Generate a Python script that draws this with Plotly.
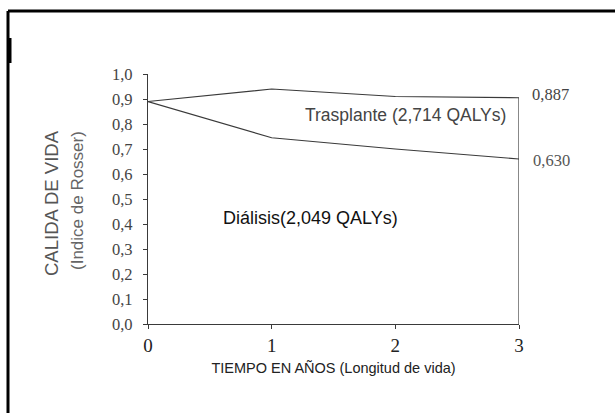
import plotly.graph_objects as go

# data
years = [0, 1, 2, 3]
trasplante = [0.89, 0.94, 0.91, 0.905]
dialisis = [0.89, 0.745, 0.70, 0.66]

y_ticks = [0.0, 0.1, 0.2, 0.3, 0.4, 0.5, 0.6, 0.7, 0.8, 0.9, 1.0]
y_tick_text = ['0,0', '0,1', '0,2', '0,3', '0,4', '0,5', '0,6', '0,7', '0,8', '0,9', '1,0']
x_ticks = [0, 1, 2, 3]

end_labels = ['0,887', '0,630']
label_trasplante = 'Trasplante (2,714 QALYs)'
label_dialisis = 'Diálisis(2,049 QALYs)'

line_col = '#3a3a3a'
serif = 'Liberation Serif, DejaVu Serif, serif'
sans = 'Liberation Sans, Arial, sans-serif'

fig = go.Figure()

fig.add_trace(go.Scatter(x=years, y=trasplante, mode='lines',
                         line=dict(color=line_col, width=1.2), name='Trasplante'))
fig.add_trace(go.Scatter(x=years, y=dialisis, mode='lines',
                         line=dict(color=line_col, width=1.2), name='Diálisis'))
# vertical closing line at the end of the time span
fig.add_trace(go.Scatter(x=[years[-1], years[-1]], y=[0, trasplante[-1]], mode='lines',
                         line=dict(color=line_col, width=1.2), showlegend=False))

W, H = 615, 413
ml, mr, mt, mb = 148, 96, 74, 89

fig.update_layout(
    width=W, height=H,
    margin=dict(l=ml, r=mr, t=mt, b=mb),
    paper_bgcolor='white', plot_bgcolor='white',
    showlegend=False,
    xaxis=dict(range=[0, 3], tickvals=x_ticks, ticks='outside', ticklen=4,
               tickcolor=line_col, showline=True, linecolor=line_col, linewidth=1.2,
               showgrid=False, zeroline=False,
               tickfont=dict(family=serif, size=19, color='#222'),
               title=dict(text='TIEMPO EN AÑOS (Longitud de vida)',
                          font=dict(family=sans, size=14.5, color='#222'), standoff=7)),
    yaxis=dict(range=[0, 1.0], tickvals=y_ticks, ticktext=y_tick_text,
               ticks='outside', ticklen=4, tickcolor=line_col,
               showline=True, linecolor=line_col, linewidth=1.2,
               showgrid=False, zeroline=False, ticklabelstandoff=7,
               tickfont=dict(family=serif, size=16.5, color='#444')),
)

# y axis title, two rotated lines
fig.add_annotation(xref='paper', yref='paper', x=(51 - ml) / (W - ml - mr), xanchor='center',
                   y=(324 - 203) / (324 - 74), yanchor='middle',
                   text='CALIDA DE VIDA', textangle=-90, showarrow=False,
                   font=dict(family=sans, size=18.5, color='#555'))
fig.add_annotation(xref='paper', yref='paper', x=(77 - ml) / (W - ml - mr), xanchor='center',
                   y=(324 - 201) / (324 - 74), yanchor='middle',
                   text='(Indice de Rosser)', textangle=-90, showarrow=False,
                   font=dict(family=sans, size=17, color='#666'))

fig.add_annotation(x=3, y=trasplante[-1], text=end_labels[0], showarrow=False,
                   xanchor='left', xshift=11, yshift=3,
                   font=dict(family=serif, size=16.5, color='#444'))
fig.add_annotation(x=3, y=dialisis[-1], text=end_labels[1], showarrow=False,
                   xanchor='left', xshift=12, yshift=-1,
                   font=dict(family=serif, size=16.5, color='#555'))
fig.add_annotation(x=2.086, y=0.836, text=label_trasplante, showarrow=False,
                   font=dict(family=sans, size=17.5, color='#444'))
fig.add_annotation(x=1.31, y=0.424, text=label_dialisis, showarrow=False,
                   font=dict(family=sans, size=18, color='#111'))

# outer frame of the figure panel
pw = W - ml - mr
ph = H - mt - mb
def px_x(v):
    return (v - ml) / pw
def px_y(v):
    return (H - mb - v) / ph
fig.add_shape(type='line', xref='paper', yref='paper',
              x0=px_x(8), x1=px_x(W + 5), y0=px_y(11), y1=px_y(11),
              line=dict(color='black', width=3))
fig.add_shape(type='line', xref='paper', yref='paper',
              x0=px_x(8), x1=px_x(8), y0=px_y(11), y1=px_y(H + 5),
              line=dict(color='black', width=3))
fig.add_shape(type='line', xref='paper', yref='paper',
              x0=px_x(10), x1=px_x(10), y0=px_y(38), y1=px_y(63),
              line=dict(color='black', width=3))

fig.write_html("out.html", config={'displayModeBar': False},
               post_script="document.body.style.margin='0';")
